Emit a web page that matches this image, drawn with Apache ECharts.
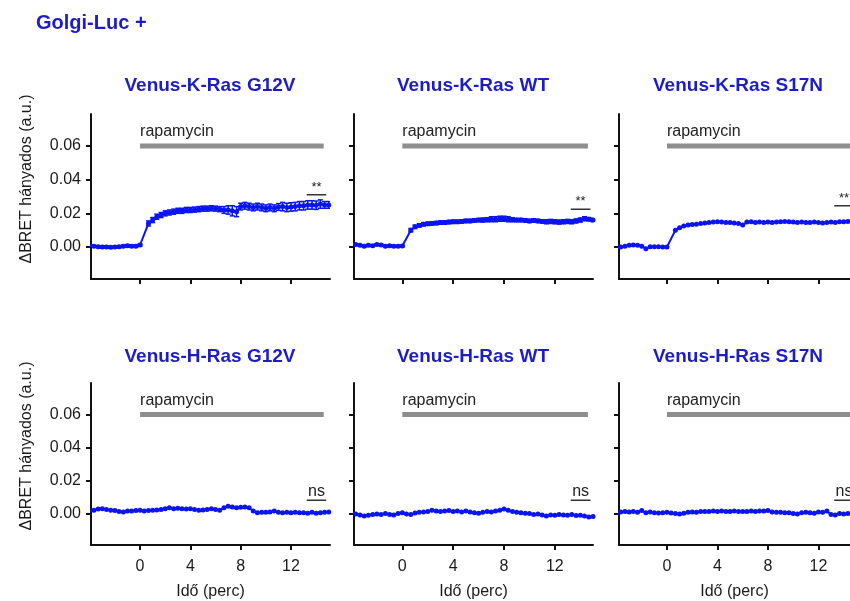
<!DOCTYPE html>
<html>
<head>
<meta charset="utf-8">
<title>Golgi-Luc +</title>
<script src="https://cdn.jsdelivr.net/npm/echarts@6/dist/echarts.min.js"></script>
<style>
  html, body { margin: 0; padding: 0; background: #fff; }
  #chart { width: 850px; height: 601px; }
</style>
</head>
<body>
<div id="chart"></div>
<script>
// time points (perc)
const times = [-4, -3.67, -3.33, -3, -2.67, -2.33, -2, -1.67, -1.33, -1, -0.67, -0.33,
  0, 0.33, 0.67, 1, 1.33, 1.67, 2, 2.33, 2.67, 3, 3.33, 3.67,
  4, 4.33, 4.67, 5, 5.33, 5.67, 6, 6.33, 6.67, 7, 7.33, 7.67,
  8, 8.33, 8.67, 9, 9.33, 9.67, 10, 10.33, 10.67, 11, 11.33, 11.67,
  12, 12.33, 12.67, 13, 13.33, 13.67, 14, 14.33, 14.67, 15];

// Venus-K-Ras G12V
const kG12V = [0.0008, 0.0005, 0.0002, 0.0, 0.0, -0.0002, 0.0, 0.0002, 0.0005, 0.0008, 0.0005, 0.0005,
  0.0012, null, 0.014, 0.016, 0.018, 0.019, 0.020, 0.0205, 0.021, 0.0215, 0.0215, 0.022,
  0.022, 0.0222, 0.0225, 0.0228, 0.0228, 0.023, 0.0228, 0.0225, 0.022, 0.022, 0.0215, 0.021,
  0.024, 0.0245, 0.024, 0.0235, 0.024, 0.0235, 0.023, 0.0235, 0.023, 0.0238, 0.024, 0.0235,
  0.0238, 0.024, 0.0245, 0.0245, 0.025, 0.025, 0.0248, 0.0255, 0.025, 0.025];
const kG12VErr = [0.0006, 0.0006, 0.0006, 0.0006, 0.0006, 0.0006, 0.0006, 0.0006, 0.0006, 0.0006, 0.0006, 0.0006,
  0.0006, null, 0.0015, 0.0015, 0.0015, 0.0015, 0.0015, 0.0015, 0.0015, 0.0015, 0.0015, 0.0015,
  0.0015, 0.0015, 0.0015, 0.0015, 0.0015, 0.0015, 0.0015, 0.0015, 0.002, 0.0025, 0.003, 0.003,
  0.002, 0.002, 0.002, 0.002, 0.002, 0.002, 0.002, 0.002, 0.002, 0.002, 0.0025, 0.0025,
  0.0025, 0.0025, 0.0025, 0.0025, 0.0025, 0.0025, 0.0025, 0.0025, 0.002, 0.002];

// Venus-K-Ras WT
const kWT = [0.001, 0.0015, 0.001, 0.0005, 0.001, 0.0008, 0.0015, 0.0012, 0.0005, 0.0008, 0.0005, 0.0005,
  0.0006, null, 0.010, 0.012, 0.0128, 0.0135, 0.0138, 0.014, 0.0142, 0.0145, 0.0145, 0.0148,
  0.015, 0.015, 0.0152, 0.0155, 0.0155, 0.0158, 0.016, 0.016, 0.0162, 0.0165, 0.0165, 0.0168,
  0.0168, 0.0165, 0.0162, 0.016, 0.016, 0.0158, 0.0155, 0.0158, 0.0155, 0.0152, 0.015, 0.0152,
  0.015, 0.0148, 0.015, 0.0152, 0.015, 0.0155, 0.016, 0.0168, 0.0165, 0.016];
const kWTErr = [0.0005, 0.0005, 0.0005, 0.0005, 0.0005, 0.0005, 0.0005, 0.0005, 0.0005, 0.0005, 0.0005, 0.0005,
  0.0005, null, 0.001, 0.001, 0.001, 0.001, 0.001, 0.001, 0.001, 0.001, 0.001, 0.001,
  0.001, 0.001, 0.001, 0.001, 0.001, 0.001, 0.001, 0.0012, 0.0012, 0.0015, 0.0015, 0.0015,
  0.0015, 0.0015, 0.0012, 0.001, 0.001, 0.001, 0.001, 0.001, 0.001, 0.001, 0.0012, 0.0012,
  0.0012, 0.0012, 0.0012, 0.0012, 0.0012, 0.0012, 0.0012, 0.0012, 0.001, 0.001];

// Venus-K-Ras S17N
const kS17N = [-0.0005, 0.0, 0.0005, 0.001, 0.0012, 0.001, 0.0005, -0.001, 0.0002, 0.0002, 0.0002, 0.0,
  0.0, null, 0.010, 0.0115, 0.0125, 0.013, 0.0133, 0.0135, 0.014, 0.0142, 0.0145, 0.0148,
  0.015, 0.0148, 0.0145, 0.0145, 0.0142, 0.014, 0.013, 0.0148, 0.015, 0.0145, 0.0148, 0.0145,
  0.0148, 0.0145, 0.0148, 0.015, 0.0152, 0.015, 0.0148, 0.0145, 0.0148, 0.0145, 0.0145, 0.0148,
  0.0145, 0.0142, 0.0145, 0.0148, 0.0145, 0.015, 0.015, 0.0152, 0.0155, 0.0158];

// Venus-H-Ras G12V
const hG12V = [0.001, 0.002, 0.0028, 0.003, 0.0025, 0.002, 0.0018, 0.0012, 0.001, 0.0015, 0.0015, 0.0018,
  0.002, 0.0015, 0.0018, 0.002, 0.0022, 0.0025, 0.003, 0.0035, 0.003, 0.0032, 0.003, 0.0028,
  0.003, 0.0025, 0.002, 0.0022, 0.0025, 0.003, 0.0025, 0.002, 0.0035, 0.0045, 0.004, 0.0035,
  0.0038, 0.004, 0.0035, 0.0015, 0.0005, 0.0008, 0.0008, 0.001, 0.0015, 0.0008, 0.0005, 0.0008,
  0.0005, 0.0008, 0.0005, 0.0005, 0.0002, 0.0008, 0.0002, 0.0005, 0.0008, 0.001];

// Venus-H-Ras WT
const hWT = [0.0002, -0.0003, -0.0008, -0.0015, -0.001, -0.0005, -0.0003, -0.0005, 0.0, -0.0005, -0.0008, 0.0,
  0.0005, -0.0003, -0.0005, 0.0003, 0.0008, 0.001, 0.0012, 0.002, 0.0015, 0.0012, 0.0015, 0.0018,
  0.0012, 0.0015, 0.001, 0.0015, 0.001, 0.0005, 0.0002, 0.0008, 0.0012, 0.001, 0.0015, 0.002,
  0.0028, 0.002, 0.0012, 0.0008, 0.0005, 0.0002, 0.0, -0.0005, -0.0002, -0.0008, -0.0015, -0.0008,
  -0.001, -0.0005, -0.0008, -0.001, -0.0005, -0.0012, -0.001, -0.0015, -0.002, -0.0018];

// Venus-H-Ras S17N
const hS17N = [-0.0015, 0.001, 0.0012, 0.001, 0.0012, 0.0008, 0.0018, 0.0005, 0.001, 0.0005, 0.0003, 0.0005,
  0.0008, 0.0003, 0.0, -0.0003, 0.0002, 0.0008, 0.001, 0.0008, 0.0012, 0.0012, 0.0013, 0.0015,
  0.0012, 0.0015, 0.0013, 0.0012, 0.0015, 0.0013, 0.0012, 0.0013, 0.0015, 0.0012, 0.0015, 0.0015,
  0.0018, 0.001, 0.0008, 0.0008, 0.0005, 0.0005, 0.0, -0.0002, 0.0005, 0.0008, 0.0005, 0.0002,
  0.001, 0.0008, 0.0015, -0.0005, -0.0008, 0.0, -0.0003, 0.0, 0.0, 0.0];

const panelTitles = ['Venus-K-Ras G12V', 'Venus-K-Ras WT', 'Venus-K-Ras S17N',
  'Venus-H-Ras G12V', 'Venus-H-Ras WT', 'Venus-H-Ras S17N'];
const panelValues = [kG12V, kWT, kS17N, hG12V, hWT, hS17N];
const panelErrors = [kG12VErr, kWTErr, null, null, null, null];
const sigLabels = ['**', '**', '**', 'ns', 'ns', 'ns'];
const sigLevels = [0.031, 0.0225, 0.0245, 0.008, 0.008, 0.008];
const sigRange = [13.25, 14.8];
const rapaRange = [0, 14.6];
const rapaLevel = 0.06;
const xTicks = [0, 4, 8, 12];
const yTicks = [0, 0.02, 0.04, 0.06];

const FONT = 'Arial, "Liberation Sans", sans-serif';
const BLUE = '#0a14f0';
const TITLE_BLUE = '#1c1cc8';
const INK = '#1a1a1a';

// panel layout (right column is cut by the page edge, as in the original figure)
const cols = [
  { left: 91, width: 239, min: -3.9, max: 15.1, cx: 210 },
  { left: 354, width: 239, min: -3.8, max: 15, cx: 473 },
  { left: 619, width: 231, min: -3.8, max: 14.5, cx: 738 }
];
const rows = [
  { top: 114, titleY: 86, nameY: 179 },
  { top: 383, titleY: 357, nameY: 446 }
];

const chart = echarts.init(document.getElementById('chart'));

const grid = [], xAxis = [], yAxis = [], series = [];
const graphic = [{
  type: 'text', x: 36, y: 23,
  style: { text: 'Golgi-Luc +', font: 'bold 20px ' + FONT, fill: TITLE_BLUE, textVerticalAlign: 'middle' }
}];

rows.forEach((row, r) => {
  graphic.push({
    type: 'text', x: 27, y: row.nameY, rotation: Math.PI / 2,
    style: { text: 'ΔBRET hányados (a.u.)', font: '16px ' + FONT, fill: INK, textAlign: 'center', textVerticalAlign: 'middle' }
  });
  cols.forEach((col, c) => {
    const i = r * 3 + c;
    grid.push({ left: col.left, top: row.top, width: col.width, height: 165 });
    graphic.push({
      type: 'text', x: col.cx, y: row.titleY,
      style: { text: panelTitles[i], font: 'bold 19px ' + FONT, fill: TITLE_BLUE, textAlign: 'center', textVerticalAlign: 'middle' }
    });
    xAxis.push({
      type: 'value', gridIndex: i, min: col.min, max: col.max,
      name: r === 1 ? 'Idő (perc)' : '', nameLocation: 'middle', nameGap: 39,
      nameTextStyle: { fontSize: 16, fontFamily: FONT, color: INK },
      axisLine: { onZero: false, lineStyle: { color: '#111', width: 2 } },
      axisTick: { show: true, customValues: xTicks, length: 5, lineStyle: { color: '#111', width: 2 } },
      axisLabel: { show: r === 1, customValues: xTicks, margin: 14, fontSize: 16, fontFamily: FONT, color: INK },
      splitLine: { show: false }
    });
    yAxis.push({
      type: 'value', gridIndex: i, min: -0.019, max: 0.079,
      axisLine: { show: true, onZero: false, lineStyle: { color: '#111', width: 2 } },
      axisTick: { show: true, customValues: yTicks, length: 5, lineStyle: { color: '#111', width: 2 } },
      axisLabel: {
        show: c === 0, customValues: yTicks, margin: 10, fontSize: 16, fontFamily: FONT, color: INK,
        formatter: v => v.toFixed(2)
      },
      splitLine: { show: false }
    });

    const vals = panelValues[i];
    const errs = panelErrors[i];

    // rapamycin bar
    series.push({
      type: 'line', xAxisIndex: i, yAxisIndex: i, silent: true,
      symbol: 'circle', symbolSize: 0.1, showSymbol: true,
      lineStyle: { color: '#8e8e8e', width: 5 },
      itemStyle: { color: '#8e8e8e' },
      data: [
        { value: [rapaRange[0], rapaLevel], label: { show: true, formatter: 'rapamycin', position: 'top', align: 'left', distance: 6, fontSize: 16, fontFamily: FONT, color: '#222' } },
        [rapaRange[1], rapaLevel]
      ]
    });

    // error bars
    if (errs) {
      series.push({
        type: 'custom', xAxisIndex: i, yAxisIndex: i, silent: true, clip: true,
        encode: { x: 0, y: [1, 2] },
        data: times.map((t, k) => vals[k] === null ? null : [t, vals[k] - errs[k], vals[k] + errs[k]]).filter(d => d),
        renderItem: (params, api) => {
          const top = api.coord([api.value(0), api.value(2)]);
          const bot = api.coord([api.value(0), api.value(1)]);
          const st = { stroke: BLUE, lineWidth: 1.5 };
          return {
            type: 'group', children: [
              { type: 'line', shape: { x1: top[0], y1: top[1], x2: bot[0], y2: bot[1] }, style: st },
              { type: 'line', shape: { x1: top[0] - 2.5, y1: top[1], x2: top[0] + 2.5, y2: top[1] }, style: st },
              { type: 'line', shape: { x1: bot[0] - 2.5, y1: bot[1], x2: bot[0] + 2.5, y2: bot[1] }, style: st }
            ]
          };
        }
      });
    }

    // data
    series.push({
      type: 'line', name: panelTitles[i], xAxisIndex: i, yAxisIndex: i, silent: true,
      connectNulls: true, symbol: 'circle', symbolSize: 5, showSymbol: true,
      lineStyle: { color: BLUE, width: 2 },
      itemStyle: { color: BLUE },
      data: times.map((t, k) => [t, vals[k] === null ? '-' : vals[k]])
    });

    // significance marker
    const sy = sigLevels[i];
    series.push({
      type: 'line', xAxisIndex: i, yAxisIndex: i, silent: true,
      symbol: 'circle', symbolSize: 0.1, showSymbol: true,
      lineStyle: { color: '#333', width: 1.5 },
      itemStyle: { color: '#333' },
      data: [
        [sigRange[0], sy],
        { value: [(sigRange[0] + sigRange[1]) / 2, sy], label: { show: true, formatter: sigLabels[i], position: 'top', distance: 1, fontSize: sigLabels[i] === 'ns' ? 16 : 13, fontFamily: FONT, color: '#222' } },
        [sigRange[1], sy]
      ]
    });
  });
});

chart.setOption({
  animation: false,
  backgroundColor: '#fff',
  textStyle: { fontFamily: FONT },
  grid: grid,
  xAxis: xAxis,
  yAxis: yAxis,
  series: series,
  graphic: graphic
});

window.addEventListener('resize', () => chart.resize());
</script>
</body>
</html>
